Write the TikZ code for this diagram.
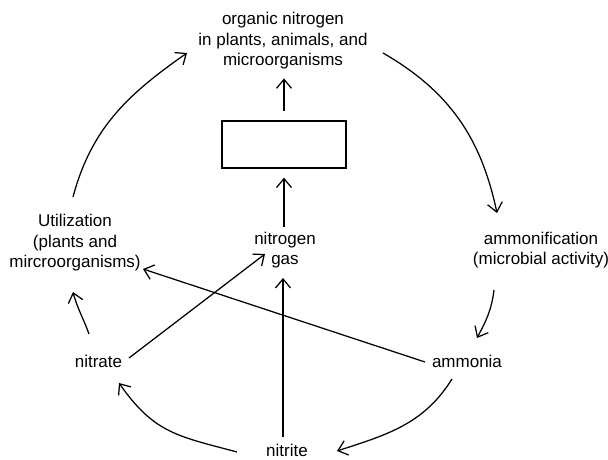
\documentclass[tikz,border=0pt]{standalone}
\usepackage{fontspec}
\setmainfont{Liberation Sans}
\usetikzlibrary{arrows.meta}
\begin{document}
\begin{tikzpicture}[x=1pt,y=1pt,
  lbl/.style={align=center, inner sep=0pt, font=\fontsize{17}{20.5}\selectfont},
  arr/.style={-{Straight Barb[length=9pt,width=15pt]}, line width=1.25pt},
  boxst/.style={draw, line width=1.25pt, minimum width=124pt, minimum height=47pt, inner sep=0pt}]
\useasboundingbox (0,0) rectangle (608,460);
% nodes
\node[lbl] (org) at (283,419) {organic nitrogen\\in plants, animals, and\\microorganisms};
\node[boxst] (fix) at (284,315.5) {};
\node[lbl] (n2) at (285,210) {nitrogen\\gas};
\node[lbl] (util) at (75,217) {Utilization\\(plants and\\mircroorganisms)};
\node[lbl] (amf) at (541,210) {ammonification\\(microbial activity)};
\node[lbl] (nitrate) at (98.5,99) {nitrate};
\node[lbl] (ammonia) at (467,99) {ammonia};
\node[lbl] (nitrite) at (287,9.5) {nitrite};
% connector end points
\coordinate (util-o) at (73,263);
\coordinate (org-i) at (187,407);
\coordinate (org-o) at (383,407);
\coordinate (amf-i) at (497,247);
\coordinate (amf-o) at (494,170);
\coordinate (ammonia-i) at (477,122);
\coordinate (ammonia-o) at (452,81);
\coordinate (nitrite-i) at (337,9);
\coordinate (nitrite-o) at (237,8);
\coordinate (nitrate-i) at (119,77);
\coordinate (nitrate-o) at (89,126);
\coordinate (util-i) at (73,168);
\coordinate (nitrate-o2) at (129,102);
\coordinate (n2-i) at (265,206);
\coordinate (ammonia-o2) at (425,98);
\coordinate (util-i2) at (143,191);
\coordinate (nitrite-o2) at (283,23);
\coordinate (n2-i2) at (283,182);
% connectors
\draw[arr] (util-o) to[out=75,in=215] (org-i);
\draw[arr] (org-o) to[out=-30,in=102] (amf-i);
\draw[arr] (amf-o) to[out=-97,in=62] (ammonia-i);
\draw[arr] (ammonia-o) to[out=-122,in=18] (nitrite-i);
\draw[arr] (nitrite-o) to[out=165,in=-55,looseness=1.15] (nitrate-i);
\draw[arr] (nitrate-o) to[out=110,in=-75] (util-i);
\draw[arr] (nitrate-o2) -- (n2-i);
\draw[arr] (ammonia-o2) -- (util-i2);
\draw[arr] (nitrite-o2) -- (n2-i2);
\draw[arr] ([yshift=-58pt]fix.south) -- ([yshift=-9pt]fix.south);
\draw[arr] ([yshift=9pt]fix.north) -- ([yshift=42pt]fix.north);
\end{tikzpicture}
\end{document}
